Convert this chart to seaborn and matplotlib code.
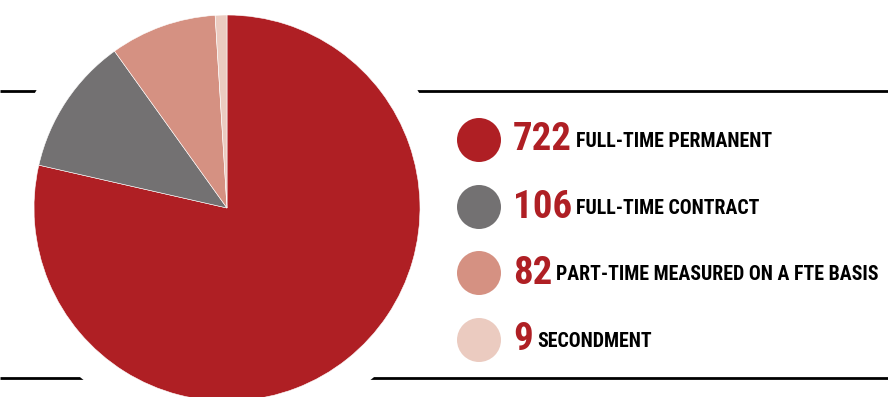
import matplotlib
matplotlib.use("Agg")
import matplotlib.pyplot as plt
from matplotlib import font_manager
from matplotlib.patches import Circle
import seaborn as sns
import pandas as pd

# Headcount by employment type
categories = ["FULL-TIME PERMANENT", "FULL-TIME CONTRACT",
              "PART-TIME MEASURED ON A FTE BASIS", "SECONDMENT"]
counts = [722, 106, 82, 9]
colors = ["#AF1F24", "#737172", "#D59182", "#EBCBC0"]

sns.set_theme(style="white")

# Prefer a narrow face for the condensed typography
available = {f.name for f in font_manager.fontManager.ttflist}
condensed = "DejaVu Sans"
for name in ["Roboto Condensed", "Liberation Sans Narrow", "DejaVu Sans Condensed"]:
    if name in available:
        condensed = name
        break
plt.rcParams["font.family"] = [condensed, "DejaVu Sans"]

W, H = 888, 397
fig = plt.figure(figsize=(W / 100, H / 100), dpi=100)
ax = fig.add_axes([0, 0, 1, 1])
ax.set_axis_off()

cx, cy, r = 227, H - 208, 193

# Horizontal rules, interrupted by a white halo around the pie
for y in (H - 91, H - 378):
    ax.plot([0, W], [y, y], color="black", lw=2.0, zorder=1, solid_capstyle="butt")
ax.add_patch(Circle((cx, cy), 224, facecolor="white", edgecolor="none", zorder=2))

ax.pie(counts, colors=colors, startangle=90, counterclock=False,
       center=(cx, cy), radius=r,
       wedgeprops=dict(edgecolor="white", linewidth=0.4, zorder=3))

ax.set_xlim(0, W)
ax.set_ylim(0, H)
ax.set_aspect("equal")

# Legend: dot, value, description
legend = pd.DataFrame({"category": categories, "count": counts, "color": colors})
row_y = [H - 140, H - 207, H - 273, H - 340]
legend["y"] = row_y
legend["x"] = 479
sns.scatterplot(data=legend, x="x", y="y", hue="category", palette=colors,
                s=(44 * 0.72) ** 2, edgecolor="none", legend=False, ax=ax, zorder=4)

for _, row in legend.iterrows():
    num = ax.text(513, row["y"], str(row["count"]), color="#AF1F24",
                  fontsize=28, fontweight="bold", ha="left", va="center", zorder=5)
    ax.annotate(row["category"], xy=(1, 0.5), xycoords=num,
                xytext=(3, -1), textcoords="offset points",
                fontsize=14.3, fontweight="bold", color="black",
                ha="left", va="center", zorder=5)

fig.savefig("out.png", dpi=100)
